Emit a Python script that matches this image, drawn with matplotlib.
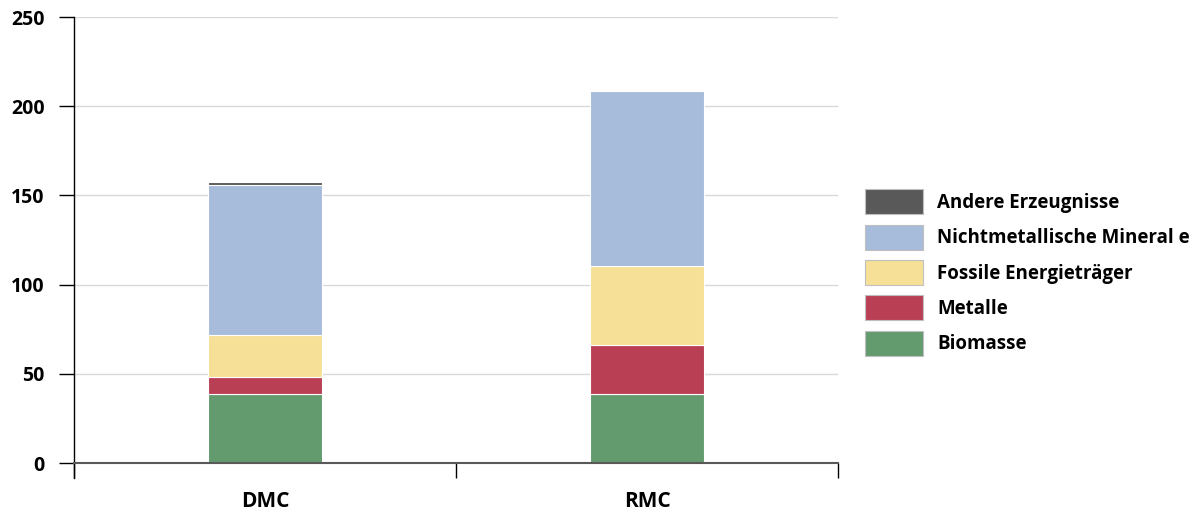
import matplotlib
matplotlib.use('Agg')
import matplotlib.pyplot as plt
import numpy as np

plt.rcParams['font.family'] = ['Open Sans', 'DejaVu Sans']

# Daten
kategorien = ['DMC', 'RMC']
biomasse = [38.9, 38.9]
metalle = [9.3, 27.1]
fossile = [23.8, 44.3]
nichtmetallische = [84.1, 98.2]
andere = [1.2, 0.0]

serien = ['Biomasse', 'Metalle', 'Fossile Energieträger',
          'Nichtmetallische Mineral e', 'Andere Erzeugnisse']
werte = [biomasse, metalle, fossile, nichtmetallische, andere]
farben = ['#639A6E', '#B93F55', '#F6DF97', '#A7BBDB', '#595959']

fig = plt.figure(figsize=(11.97, 5.11), dpi=100)
ax = fig.add_axes([74 / 1197, 48 / 511, 764 / 1197, 446 / 511])

x = np.arange(len(kategorien))
unten = np.zeros(len(kategorien))
balken = []
for name, w, c in zip(serien, werte, farben):
    b = ax.bar(x, w, bottom=unten, width=0.3, color=c, edgecolor='white',
               linewidth=0.8, label=name, zorder=3)
    balken.append(b)
    unten += np.array(w)

ax.set_xlim(-0.5, 1.5)
ax.set_ylim(0, 250)
ax.set_yticks(range(0, 251, 50))
ax.yaxis.grid(True, color='#D9D9D9', linewidth=1, zorder=0)
ax.set_axisbelow(True)

for s in ['top', 'right']:
    ax.spines[s].set_visible(False)
ax.spines['bottom'].set_color('#595959')
ax.spines['bottom'].set_linewidth(1.5)
ax.spines['bottom'].set_zorder(4)
ax.spines['left'].set_color('black')
ax.spines['left'].set_linewidth(1)
ax.spines['left'].set_bounds(-8.5, 250)

ax.set_xticks(x)
ax.set_xticklabels(kategorien, fontsize=15, fontweight='bold')
ax.tick_params(axis='x', which='major', length=0, pad=20)
ax.set_xticks([-0.5, 0.5, 1.5], minor=True)
ax.tick_params(axis='x', which='minor', length=11, width=1, color='black')
ax.tick_params(axis='y', length=11, width=1, color='black', pad=10,
               labelsize=14)
for t in ax.get_yticklabels():
    t.set_fontweight('bold')

# Legende in umgekehrter Reihenfolge
handles = balken[::-1]
labels = serien[::-1]
leg = fig.legend(handles, labels, loc='upper left',
                 bbox_to_anchor=(865 / 1197, (511 - 189.5) / 511),
                 frameon=False, borderpad=0, borderaxespad=0,
                 handlelength=3.1, handleheight=1.674, labelspacing=0.548,
                 handletextpad=0.74, prop={'weight': 'bold', 'size': 13.5})
for h in leg.legend_handles:
    h.set_edgecolor('#BFBFBF')
    h.set_linewidth(0.8)

fig.savefig('out.png', dpi=100)
